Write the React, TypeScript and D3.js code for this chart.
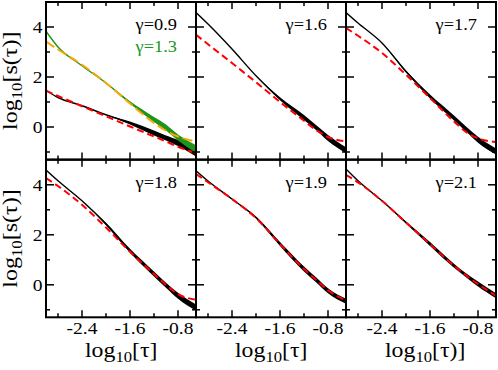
import * as d3 from "d3";

// log10 tau sample points shared by every curve
const tau = [-3.0, -2.8, -2.4, -2.0, -1.6, -1.2, -1.0, -0.8, -0.5];

// simulated s(tau)
const sim09 = [1.46, 1.18, 0.85, 0.49, 0.16, -0.24, -0.44, -0.64, -1.06];
const sim13 = [3.83, 3.2, 2.45, 1.76, 0.98, 0.3, -0.02, -0.42, -0.88];
const sim16 = [4.58, 4.12, 3.12, 2.05, 1.13, 0.38, -0.02, -0.44, -0.93];
const sim17 = [4.58, 4.16, 3.36, 2.22, 1.22, 0.36, -0.08, -0.51, -0.98];
const sim18 = [4.59, 4.16, 3.36, 2.43, 1.36, 0.43, -0.02, -0.44, -0.91];
const sim19 = [4.56, 4.15, 3.43, 2.69, 1.63, 0.63, 0.2, -0.24, -0.66];
const sim21 = [4.63, 4.16, 3.36, 2.49, 1.63, 0.76, 0.38, 0.03, -0.44];

// fluctuation half-width of the simulated curves
const noise09 = [0, 0, 0, 0, 0.06, 0.1, 0.1, 0.12, 0.12];
const noise13 = [0, 0, 0, 0, 0.05, 0.1, 0.12, 0.12, 0.15];
const noise16 = [0, 0, 0, 0, 0.06, 0.1, 0.1, 0.12, 0.12];
const noise17 = [0, 0, 0, 0.04, 0.08, 0.1, 0.1, 0.12, 0.12];
const noise18 = [0, 0, 0, 0.05, 0.08, 0.1, 0.1, 0.12, 0.12];
const noise19 = [0, 0, 0, 0.04, 0.08, 0.1, 0.1, 0.1, 0.1];
const noise21 = [0, 0, 0, 0.04, 0.08, 0.08, 0.08, 0.1, 0.1];

// fits (dashed)
const fit09 = [1.45, 1.24, 0.83, 0.43, 0.02, -0.38, -0.58, -0.79, -1.05];
const fit13 = [3.42, 3.1, 2.49, 1.76, 0.94, 0.16, -0.15, -0.38, -0.58];
const fit16 = [3.69, 3.31, 2.56, 1.79, 1.0, 0.25, -0.12, -0.4, -0.58];
const fit17 = [3.96, 3.65, 2.96, 2.09, 1.16, 0.22, -0.2, -0.45, -0.6];
const fit18 = [4.27, 3.95, 3.2, 2.29, 1.32, 0.43, 0.0, -0.37, -0.6];
const fit19 = [4.43, 4.1, 3.43, 2.67, 1.63, 0.63, 0.2, -0.22, -0.62];
const fit21 = [4.4, 4.1, 3.36, 2.49, 1.63, 0.76, 0.38, 0.03, -0.44];

const yMajor = [4, 2, 0];
const yMinor = [3, 1, -1];
const xMajor = [-2.4, -1.6, -0.8];
const xMinor = [-2.8, -2.0, -1.2];
const xTickLabels = ["-2.4", "-1.6", "-0.8"];
const yTickLabels = ["4", "2", "0"];

const RED = "#ff0000";
const ORANGE = "#ffa500";
const GREEN = "#1c961c";
const FONT = "Liberation Serif, Times New Roman, Times, serif";

const lefts = [46, 196, 346];
const tops = [2, 159.8];
const PW = 150;
const PH = 157.5;

type Curve = { y: number[]; noise?: number[]; color: string; dashed?: boolean; dash?: string };
type Label = { text: string; color: string };

const panels: { col: number; row: number; curves: Curve[]; labels: Label[] }[] = [
  {
    col: 0, row: 0,
    curves: [
      { y: sim09, noise: noise09, color: "#000" },
      { y: fit09, color: RED, dashed: true },
      { y: sim13, noise: noise13, color: GREEN },
      { y: fit13, color: ORANGE, dashed: true, dash: "10,4" },
    ],
    labels: [{ text: "γ=0.9", color: "#000" }, { text: "γ=1.3", color: GREEN }],
  },
  { col: 1, row: 0, curves: [{ y: sim16, noise: noise16, color: "#000" }, { y: fit16, color: RED, dashed: true }], labels: [{ text: "γ=1.6", color: "#000" }] },
  { col: 2, row: 0, curves: [{ y: sim17, noise: noise17, color: "#000" }, { y: fit17, color: RED, dashed: true }], labels: [{ text: "γ=1.7", color: "#000" }] },
  { col: 0, row: 1, curves: [{ y: sim18, noise: noise18, color: "#000" }, { y: fit18, color: RED, dashed: true }], labels: [{ text: "γ=1.8", color: "#000" }] },
  { col: 1, row: 1, curves: [{ y: sim19, noise: noise19, color: "#000" }, { y: fit19, color: RED, dashed: true }], labels: [{ text: "γ=1.9", color: "#000" }] },
  { col: 2, row: 1, curves: [{ y: sim21, noise: noise21, color: "#000" }, { y: fit21, color: RED, dashed: true }], labels: [{ text: "γ=2.1", color: "#000" }] },
];

function Panel({ col, row, curves, labels }: { col: number; row: number; curves: Curve[]; labels: Label[] }) {
  const left = lefts[col];
  const top = tops[row];
  const x = d3.scaleLinear().domain([-3, -0.5]).range([left, left + PW]);
  const y = d3.scaleLinear().domain([-1.3, 5]).range([top + PH, top]);
  const clipId = `clip-${col}-${row}`;

  const line = d3
    .line<number>()
    .x((_, i) => x(tau[i]))
    .y((d) => y(d))
    .curve(d3.curveMonotoneX);

  const band = (noise: number[]) =>
    d3
      .area<number>()
      .x((_, i) => x(tau[i]))
      .y0((d, i) => y(d - noise[i]))
      .y1((d, i) => y(d + noise[i]))
      .curve(d3.curveMonotoneX);

  const tickStyle = { stroke: "#000", strokeWidth: 1.5 };

  return (
    <g>
      <defs>
        <clipPath id={clipId}>
          <rect x={left} y={top} width={PW} height={PH} />
        </clipPath>
      </defs>
      <g clipPath={`url(#${clipId})`}>
        {curves.map((c, k) => (
          <g key={k}>
            {c.noise && <path d={band(c.noise)(c.y) || ""} fill={c.color} />}
            <path
              d={line(c.y) || ""}
              fill="none"
              stroke={c.color}
              strokeWidth={c.dashed ? 2 : 1.4}
              strokeDasharray={c.dashed ? c.dash || "7,4" : undefined}
            />
          </g>
        ))}
      </g>
      {/* ticks on all four sides, pointing in */}
      {yMajor.map((v) => (
        <g key={`ym${v}`}>
          <line x1={left} x2={left + 8} y1={y(v)} y2={y(v)} {...tickStyle} />
          <line x1={left + PW - 8} x2={left + PW} y1={y(v)} y2={y(v)} {...tickStyle} />
        </g>
      ))}
      {yMinor.map((v) => (
        <g key={`yn${v}`}>
          <line x1={left} x2={left + 4} y1={y(v)} y2={y(v)} {...tickStyle} />
          <line x1={left + PW - 4} x2={left + PW} y1={y(v)} y2={y(v)} {...tickStyle} />
        </g>
      ))}
      {xMajor.map((v) => (
        <g key={`xm${v}`}>
          <line x1={x(v)} x2={x(v)} y1={top + PH} y2={top + PH - 7} {...tickStyle} />
          <line x1={x(v)} x2={x(v)} y1={top} y2={top + 7} {...tickStyle} />
        </g>
      ))}
      {xMinor.map((v) => (
        <g key={`xn${v}`}>
          <line x1={x(v)} x2={x(v)} y1={top + PH} y2={top + PH - 4} {...tickStyle} />
          <line x1={x(v)} x2={x(v)} y1={top} y2={top + 4} {...tickStyle} />
        </g>
      ))}
      <rect x={left} y={top} width={PW} height={PH} fill="none" stroke="#000" strokeWidth={2} />

      {labels.map((l, k) => (
        <g key={l.text} transform={`translate(${left + PW - 19},${top + 28 + k * 22}) scale(1.08,1)`}>
          <text textAnchor="end" fontSize={17} fill={l.color}>
            {l.text}
          </text>
        </g>
      ))}

      {col === 0 &&
        yMajor.map((v, i) => (
          <g key={`yl${v}`} transform={`translate(42.5,${y(v) + 6}) scale(1.15,1)`}>
            <text textAnchor="end" fontSize={17}>
              {yTickLabels[i]}
            </text>
          </g>
        ))}
      {row === 1 &&
        xMajor.map((v, i) => (
          <g key={`xl${v}`} transform={`translate(${x(v)},${top + PH + 17}) scale(1.15,1)`}>
            <text textAnchor="middle" fontSize={17}>
              {xTickLabels[i]}
            </text>
          </g>
        ))}

      {row === 1 && (
        <g transform={`translate(${left + 39},357) scale(1.19,1)`}>
          <text fontSize={20}>
            log
            <tspan fontSize={14} dy={5}>10</tspan>
            <tspan dy={-5}>{col === 2 ? "[τ)]" : "[τ]"}</tspan>
          </text>
        </g>
      )}
      {col === 0 && (
        <g transform={`translate(17,${top + PH / 2}) rotate(-90) scale(1.2,1)`}>
          <text textAnchor="middle" fontSize={20}>
            log
            <tspan fontSize={14} dy={5}>10</tspan>
            <tspan dy={-5}>[s(τ)]</tspan>
          </text>
        </g>
      )}
    </g>
  );
}

export default function App() {
  return (
    <svg
      width={498}
      height={370}
      style={{ position: "absolute", left: 0, top: 0, background: "#fff", fontFamily: FONT }}
    >
      <rect width={498} height={370} fill="#fff" />
      {panels.map((p) => (
        <Panel key={`${p.col}-${p.row}`} {...p} />
      ))}
    </svg>
  );
}
